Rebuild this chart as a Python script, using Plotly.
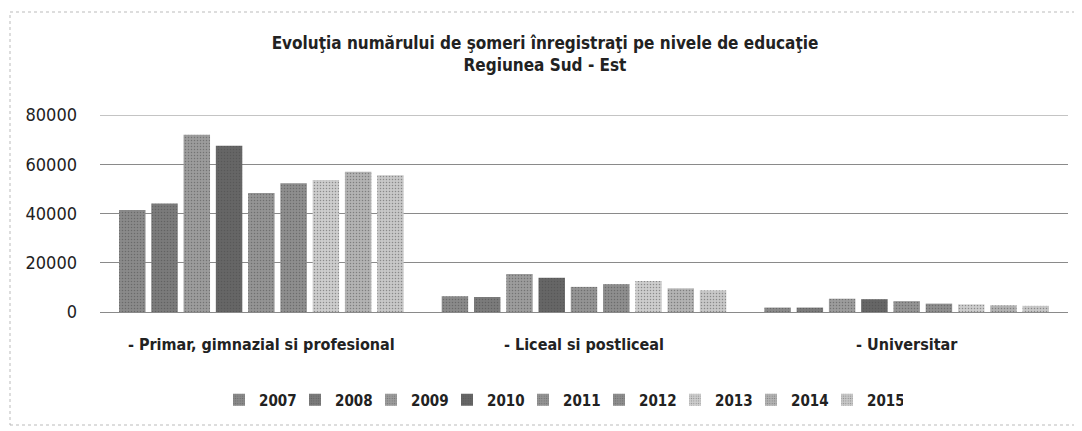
import plotly.graph_objects as go

categories = ["- Primar, gimnazial si profesional", "- Liceal si postliceal", "- Universitar"]
years = ["2007", "2008", "2009", "2010", "2011", "2012", "2013", "2014", "2015"]
v2007 = [41400, 6400, 1800]
v2008 = [44100, 6100, 1800]
v2009 = [72000, 15400, 5400]
v2010 = [67500, 13900, 5200]
v2011 = [48300, 10200, 4400]
v2012 = [52300, 11300, 3400]
v2013 = [53600, 12600, 3100]
v2014 = [57000, 9600, 2700]
v2015 = [55500, 8800, 2500]
series = [v2007, v2008, v2009, v2010, v2011, v2012, v2013, v2014, v2015]
colors = ["#8a8a8a", "#7b7b7b", "#9c9c9c", "#666666", "#949494",
          "#8e8e8e", "#cdcdcd", "#b3b3b3", "#c8c8c8"]
yticks = [0, 20000, 40000, 60000, 80000]

FONT = "Liberation Sans Narrow, DejaVu Sans Condensed, Arial Narrow, sans-serif"

# page has an 8px body margin, so figure coords are offset by 8px
OFF = 8
plot_left, plot_right, plot_top, plot_bottom = 100 - OFF, 1068 - OFF, 115 - OFF, 312 - OFF
W, H = 1082, 431
ph = plot_bottom - plot_top
pw = plot_right - plot_left

fig = go.Figure()
for name, vals, col in zip(years, series, colors):
    fig.add_trace(go.Bar(
        name="<b>" + name + "</b>", x=categories, y=vals,
        marker=dict(color=col, line=dict(width=0),
                    pattern=dict(shape=".", fgcolor="#4a4a4a", size=3, solidity=0.2)),
    ))

fig.update_layout(
    width=W, height=H,
    paper_bgcolor="white", plot_bgcolor="white",
    margin=dict(l=plot_left, r=W - plot_right, t=plot_top, b=H - plot_bottom),
    barmode="group", bargap=0.1, bargroupgap=0.18,
    font=dict(family=FONT, color="#222222"),
    title=dict(
        text="<b>Evoluţia numărului de şomeri înregistraţi pe nivele de educaţie<br>Regiunea Sud - Est</b>",
        x=(545 - OFF) / W, xanchor="center", y=1 - (49 - OFF) / H, yanchor="top",
        font=dict(family=FONT, size=17, color="#222222"),
    ),
    showlegend=True,
    legend=dict(orientation="h", x=(561 - 100) / (1068 - 100), xanchor="center",
                y=-(400 - 312) / ph, yanchor="middle",
                font=dict(family=FONT, size=15, color="#222222"),
                itemwidth=30, traceorder="normal",
                entrywidth=31, entrywidthmode="pixels"),
    xaxis=dict(showgrid=False, showline=False, ticks="", ticklabelstandoff=21,
               tickfont=dict(family=FONT, size=16, color="#222222"),
               tickvals=categories,
               ticktext=["<b>" + c + "</b>" for c in categories]),
    yaxis=dict(range=[0, 80000], tickvals=yticks, ticktext=[str(t) for t in yticks],
               showgrid=True, gridcolor="#8a8a8a", gridwidth=1, zeroline=True,
               zerolinecolor="#8a8a8a", zerolinewidth=1, showline=False,
               ticks="", ticklabelstandoff=22,
               tickfont=dict(family=FONT, size=18, color="#222222")),
    shapes=[
        dict(type="line", xref="paper", yref="y", x0=0, x1=1, y0=80000, y1=80000,
             line=dict(color="#8a8a8a", width=1)),
        dict(type="rect", xref="paper", yref="paper",
             x0=-(100 - 10) / pw, x1=1 + (1080 - 1068) / pw,
             y0=-(425 - 312) / ph, y1=1 + (115 - 12) / ph,
             line=dict(color="#bbbbbb", width=1, dash="dot"), layer="below"),
    ],
)

fig.write_html("out.html")
